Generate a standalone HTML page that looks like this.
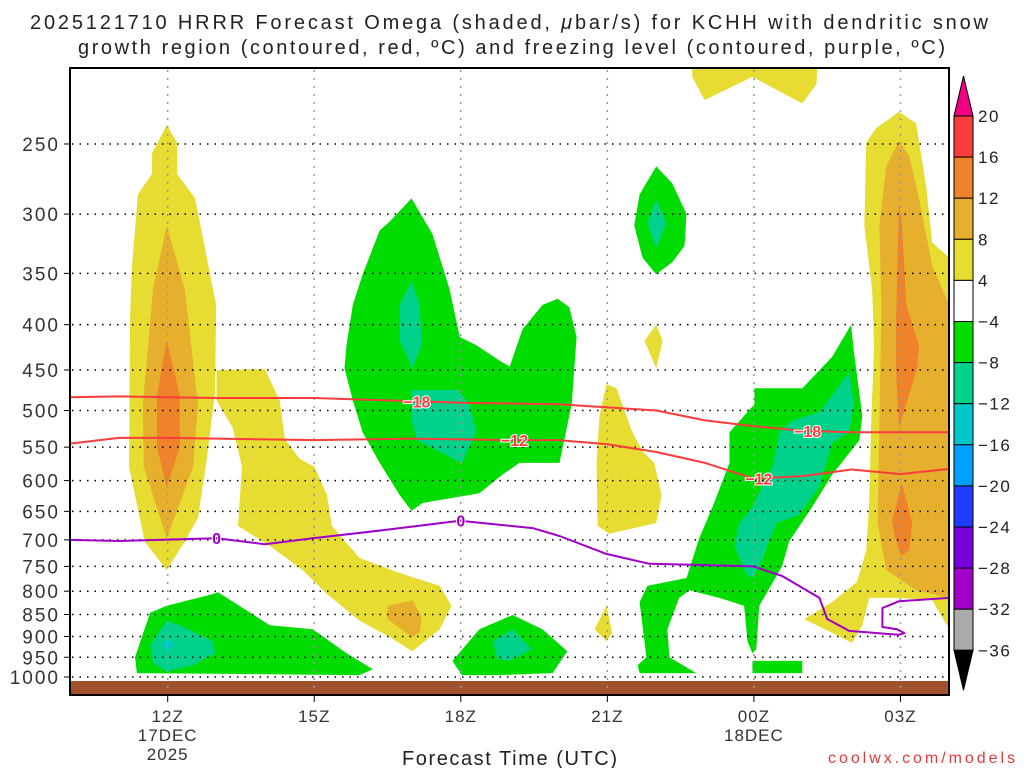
<!DOCTYPE html>
<html><head><meta charset="utf-8">
<style>
html,body{margin:0;padding:0;background:#fff;}
svg{display:block;font-family:"Liberation Sans",sans-serif;}
</style></head>
<body>
<svg id="chart" width="1024" height="768" viewBox="0 0 1024 768">
<g id="title">
<text x="30" y="29" font-size="20" fill="#222" textLength="958" lengthAdjust="spacing">2025121710 HRRR Forecast Omega (shaded, <tspan font-style="italic">μ</tspan>bar/s) for KCHH with dendritic snow</text>
<text x="78" y="54" font-size="20" fill="#222" textLength="867" lengthAdjust="spacing">growth region (contoured, red, ºC) and freezing level (contoured, purple, ºC)</text>
</g>
<g id="fills"></g>
<rect x="70" y="681" width="879" height="14" fill="#a0522d"/>
<g id="grid"></g>
<g id="lines"></g>
<rect x="70" y="68" width="879" height="627" fill="none" stroke="#000" stroke-width="2"/>
<g id="yaxis"></g>
<g id="xaxis"></g>
<text x="402" y="765" font-size="20" fill="#222" textLength="215" lengthAdjust="spacing">Forecast Time (UTC)</text>
<text x="828" y="763" font-size="16" fill="#e03c3c" textLength="187" lengthAdjust="spacing">coolwx.com/models</text>
<g id="cbar"></g>
</svg>
<script>
const pressureTicks=[250,300,350,400,450,500,550,600,650,700,750,800,850,900,950,1000];
const timeTicks=[12,15,18,21,24,27];
const timeLabels=["12Z","15Z","18Z","21Z","00Z","03Z"];
const timeSub1=["17DEC","","","","18DEC",""];
const timeSub2=["2025","","","","",""];
const cbarLabels=["20","16","12","8","4","−4","−8","−12","−16","−20","−24","−28","−32","−36"];
const cbarColors=["#fa3c3c","#f0822a","#e6af2e","#e6dc32","#ffffff","#00dc00","#00d28c","#00c8c8","#00a0ff","#1e3cff","#7800dc","#a000c8","#aaaaaa"];
const C={y:"#e6dc32",o:"#e6af2e",r:"#f0822a",g:"#00dc00",t:"#00d28c",c:"#00c8c8"};
const yellowRegions=[
[[11.98,238],[11.68,256],[11.68,270],[11.39,285],[11.27,343],[11.23,392],[11.21,579],[11.53,703],[11.98,757],[12.35,703],[12.62,661],[12.80,567],[12.97,477],[12.99,380],[12.72,319],[12.56,288],[12.19,270],[12.19,249]],
[[13.0,450],[13.99,449],[14.29,487],[14.40,539],[14.70,567],[15.01,579],[15.26,623],[15.36,675],[15.93,734],[16.81,765],[17.57,789],[17.81,831],[17.57,883],[17.01,935],[16.54,901],[15.93,864],[15.26,806],[14.76,757],[14.09,711],[13.44,675],[13.52,579],[13.33,523],[13.0,487]],
[[22.74,205],[25.30,205],[25.28,214],[24.99,225],[23.97,210],[22.99,223],[22.74,210]],
[[22.0,400],[22.13,417],[22.0,448],[21.76,417]],
[[20.98,467],[21.19,472],[21.51,529],[21.72,556],[21.96,573],[22.11,623],[22.0,670],[21.04,689],[20.80,675],[20.78,573],[20.84,507]],
[[20.98,831],[21.10,891],[20.98,911],[20.74,883]],
[[26.97,230],[26.50,240],[26.30,249],[26.26,309],[26.36,343],[26.42,365],[26.46,422],[26.40,518],[26.36,636],[26.30,719],[26.11,781],[25.60,823],[25.03,860],[26.01,915],[26.22,874],[26.36,814],[26.97,814],[27.65,819],[28.0,883],[28.0,336],[27.65,323],[27.53,280],[27.32,237]]
];
const orangeRegions=[
[[11.98,309],[11.70,365],[11.60,422],[11.49,492],[11.51,579],[11.80,649],[11.98,697],[12.19,649],[12.52,579],[12.62,492],[12.35,365]],
[[16.50,831],[17.01,819],[17.20,856],[17.16,891],[16.99,901],[16.50,860]],
[[26.97,248],[26.71,265],[26.57,309],[26.61,380],[26.57,518],[26.53,670],[26.71,757],[27.32,798],[28.0,814],[28.0,380],[27.65,343],[27.38,288],[27.18,258]]
];
const darkOrangeRegions=[
[[11.98,417],[11.78,481],[11.78,550],[11.98,610],[12.25,550],[12.25,481]],
[[26.97,291],[27.03,309],[27.12,380],[27.38,422],[27.34,448],[26.97,524],[26.91,452],[26.91,395]],
[[27.03,604],[27.24,670],[27.18,719],[27.01,730],[26.87,689],[26.83,665]]
];
const greenRegions=[
[[11.33,950],[11.64,846],[11.98,831],[12.92,806],[13.03,802],[14.09,874],[14.97,883],[15.66,940],[16.20,980],[15.93,995],[11.37,990]],
[[16.99,288],[17.42,316],[17.77,365],[17.98,413],[18.32,422],[18.79,439],[19.0,446],[19.26,405],[19.67,380],[19.98,374],[20.22,382],[20.37,413],[20.27,492],[20.02,573],[19.20,573],[18.85,591],[18.38,620],[17.22,636],[16.99,649],[16.75,623],[16.34,573],[15.99,529],[15.79,487],[15.62,448],[15.66,422],[15.79,380],[15.99,351],[16.34,313],[16.54,306]],
[[17.83,959],[18.38,883],[19.06,851],[19.67,883],[20.18,935],[19.88,990],[18.79,995],[18.02,995]],
[[22.0,265],[22.33,277],[22.62,300],[22.58,326],[22.33,340],[22.0,351],[21.72,336],[21.55,309],[21.66,285]],
[[25.99,400],[26.05,430],[26.22,507],[26.16,540],[25.60,591],[25.19,643],[24.72,703],[24.58,749],[24.11,831],[24.05,930],[23.97,940],[23.87,911],[23.80,831],[23.29,814],[22.68,798],[22.47,814],[22.23,883],[22.27,950],[22.82,990],[21.66,990],[21.62,970],[21.80,950],[21.66,823],[21.82,789],[22.21,781],[22.62,773],[22.88,697],[23.15,643],[23.50,573],[23.50,529],[24.01,492],[24.01,472],[24.99,472],[25.60,435]],
[[23.97,959],[24.99,959],[24.99,990],[23.97,990]]
];
const tealRegions=[
[[11.64,920],[11.98,864],[12.25,874],[12.92,911],[12.97,940],[12.52,970],[11.98,985],[11.70,965]],
[[16.99,357],[17.16,380],[17.20,422],[17.01,448],[16.75,417],[16.75,380]],
[[16.99,474],[17.93,474],[18.18,492],[18.32,529],[18.02,573],[17.10,540],[16.99,513]],
[[18.65,911],[19.06,883],[19.45,930],[19.0,959],[18.75,955]],
[[22.0,289],[22.21,307],[22.0,328],[21.82,307]],
[[25.95,452],[26.05,492],[25.95,529],[25.60,544],[25.48,573],[25.34,610],[24.93,656],[24.46,670],[24.31,703],[24.11,749],[23.97,773],[23.84,765],[23.60,711],[23.70,670],[23.97,643],[24.17,610],[24.38,579],[24.52,529],[24.79,513],[25.34,502],[25.60,481]]
];
const cyanRegions=[[[11.9,920],[11.98,905],[12.15,920],[11.98,935]]];
const isoHours=[10,11,12,13,14,15,16,17,18,19,20,21,22,23,24,25,26,27,28];
const minus18=[483,482,483,484,484,484,486,488,490,491,492,496,500,513,521,527,529,529,529];
const minus12=[545,537,537,538,539,540,539,538,539,540,540,546,557,573,597,593,583,590,582];
const freezeLine=[[10,700],[11.02,702],[13.0,697],[13.99,708],[14.97,697],[16.48,682],[17.98,666],[19.47,679],[20.02,693],[20.98,726],[21.86,745],[22.74,747],[23.99,750],[24.58,769],[25.34,814],[25.50,860],[25.95,887],[26.97,896],[27.08,892],[26.93,883],[26.63,878],[26.63,836],[26.97,821],[28,814]];
const labels18=[17.1,25.1];
const labels12=[19.1,24.1];
const labels0=[13.0,18.0];

const NS="http://www.w3.org/2000/svg";
const X=h=>70+(h-10)*48.85;
const Y=p=>677-Math.log(1000/p)*384.5;
function mk(tag,attrs,parent){const e=document.createElementNS(NS,tag);for(const k in attrs)e.setAttribute(k,attrs[k]);parent.appendChild(e);return e;}
const fills=document.getElementById('fills');
function drawRegions(list,color,name){
  list.forEach(poly=>{
    const d=poly.map((pt,i)=>(i?'L':'M')+X(pt[0]).toFixed(1)+','+Y(pt[1]).toFixed(1)).join('')+'Z';
    const e=mk('path',{d:d,fill:color},fills);
    
    
  });
}
drawRegions(yellowRegions,C.y,'omega-4-8');
drawRegions(orangeRegions,C.o,'omega-8-12');
drawRegions(darkOrangeRegions,C.r,'omega-12-16');
drawRegions(greenRegions,C.g,'omega-neg4-neg8');
drawRegions(tealRegions,C.t,'omega-neg8-neg12');
drawRegions(cyanRegions,C.c,'omega-neg12-neg16');

const grid=document.getElementById('grid');
const yax=document.getElementById('yaxis');
pressureTicks.forEach(p=>{
  const y=Y(p);
  const l=mk('line',{x1:72,x2:947,y1:y,y2:y,stroke:'#000','stroke-width':1.5,'stroke-dasharray':'1.5 6'},grid);
  
  
  const t=mk('line',{x1:64,x2:70,y1:y,y2:y,stroke:'#000','stroke-width':1},yax);
  
  
  const tx=mk('text',{x:60,y:y+7,'text-anchor':'end','font-size':19,'letter-spacing':2,fill:'#333'},yax);
  tx.textContent=p;
  
  
});
const xax=document.getElementById('xaxis');
timeTicks.forEach((h,i)=>{
  const x=X(h);
  const l=mk('line',{x1:x,x2:x,y1:70,y2:693,stroke:'#999','stroke-width':1.5,'stroke-dasharray':'2 6'},grid);
  
  
  const t=mk('line',{x1:x,x2:x,y1:695,y2:702,stroke:'#000','stroke-width':1},xax);
  
  
  [timeLabels[i],timeSub1[i],timeSub2[i]].forEach((s,k)=>{
    if(!s)return;
    const tx=mk('text',{x:x,y:722+k*19,'text-anchor':'middle','font-size':17,'letter-spacing':1,fill:'#333'},xax);
    tx.textContent=s;
    
    
  });
});

const lines=document.getElementById('lines');
function drawLine(pts,color,name){
  const d=pts.map((pt,i)=>(i?'L':'M')+X(pt[0]).toFixed(1)+','+Y(pt[1]).toFixed(1)).join('');
  const e=mk('path',{d:d,fill:'none',stroke:color,'stroke-width':2,'stroke-linejoin':'round'},lines);
  
  
}
function interp(hs,ps,h){for(let i=0;i<hs.length-1;i++){if(h>=hs[i]&&h<=hs[i+1]){const f=(h-hs[i])/(hs[i+1]-hs[i]);return ps[i]+f*(ps[i+1]-ps[i]);}}return ps[ps.length-1];}
function drawLabel(h,p,txt,color,name){
  const x=X(h),y=Y(p);
  const t=mk('text',{x:x,y:y+6,'text-anchor':'middle','font-size':16,'font-weight':'bold',fill:color,stroke:'#fff','stroke-width':2,'paint-order':'stroke'},lines);
  t.textContent=txt;
  
  
}
drawLine(isoHours.map((h,i)=>[h,minus18[i]]),'#fa3c3c','isotherm-minus18');
drawLine(isoHours.map((h,i)=>[h,minus12[i]]),'#fa3c3c','isotherm-minus12');
drawLine(freezeLine,'#a000c8','freezing-level');
labels18.forEach(h=>drawLabel(h,interp(isoHours,minus18,h),'−18','#fa3c3c','label-minus18'));
labels12.forEach(h=>drawLabel(h,interp(isoHours,minus12,h),'−12','#fa3c3c','label-minus12'));
labels0.forEach(h=>{let p=700;for(const pt of freezeLine){if(Math.abs(pt[0]-h)<0.05)p=pt[1];}drawLabel(h,p,'0','#a000c8','label-freezing-0');});

const cb=document.getElementById('cbar');
const cbTop=116, cbStep=41.1, cbX=954, cbW=19;
const up=mk('polygon',{points:`${cbX},${cbTop} ${cbX+cbW},${cbTop} ${cbX+cbW/2},${cbTop-40}`,fill:'#f00082',stroke:'#000','stroke-width':1},cb);


cbarColors.forEach((c,i)=>{
  const r=mk('rect',{x:cbX,y:cbTop+i*cbStep,width:cbW,height:cbStep,fill:c,stroke:'#000','stroke-width':1},cb);
  
  
});
const cbBot=cbTop+cbarColors.length*cbStep;
const dn=mk('polygon',{points:`${cbX},${cbBot} ${cbX+cbW},${cbBot} ${cbX+cbW/2},${cbBot+40}`,fill:'#000',stroke:'#000','stroke-width':1},cb);


cbarLabels.forEach((s,i)=>{
  const t=mk('text',{x:978,y:cbTop+i*cbStep+6,'font-size':17,'letter-spacing':1.5,fill:'#222'},cb);
  t.textContent=s;
  
  
});
</script>
</body></html>
